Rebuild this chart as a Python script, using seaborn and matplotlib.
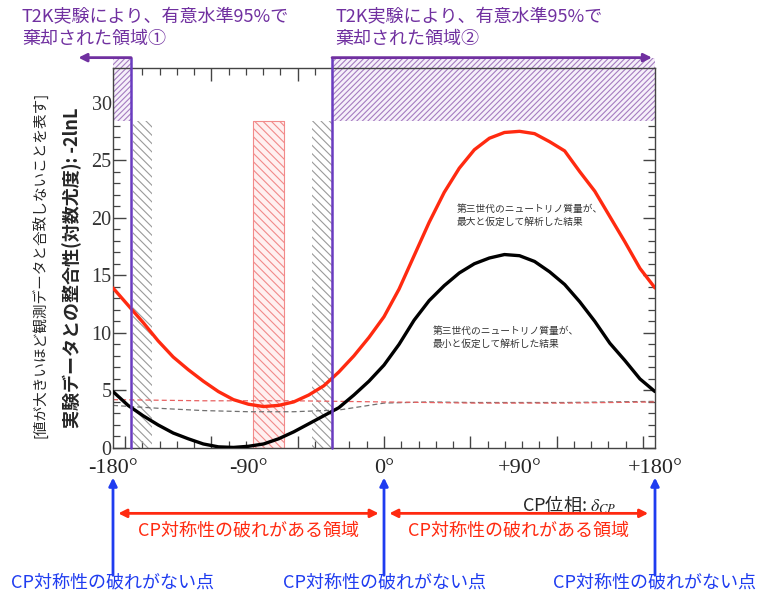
import numpy as np
import pandas as pd
import matplotlib
matplotlib.use("Agg")
import matplotlib.pyplot as plt
import seaborn as sns

# CP phase grid (degrees) and -2lnL
delta_cp = list(range(-180, 181, 10))
chi2_mass_max = [13.9, 12.4, 10.9, 9.3, 7.9, 6.8, 5.8, 4.9, 4.2, 3.8, 3.6, 3.7, 4.0,
                 4.6, 5.4, 6.6, 8.0, 9.6, 11.4, 13.8, 16.7, 19.6, 22.2, 24.3, 25.9,
                 26.9, 27.4, 27.5, 27.3, 26.6, 25.8, 24.0, 22.3, 20.1, 17.9, 15.6, 13.9]
chi2_mass_min = [4.9, 3.7, 2.8, 2.0, 1.3, 0.8, 0.35, 0.1, 0.05, 0.15, 0.35, 0.8, 1.4,
                 2.1, 2.8, 3.5, 4.6, 5.8, 7.2, 9.0, 11.1, 12.8, 14.1, 15.2, 16.0,
                 16.5, 16.8, 16.7, 16.2, 15.3, 14.2, 12.7, 11.0, 9.1, 7.6, 6.0, 4.9]

# dashed reference curves
dash_x = [-180, -150, -120, -90, -60, -30, 0, 30, 60, 90, 120, 150, 180]
dash_red = [4.2, 4.15, 4.1, 4.1, 4.1, 4.05, 4.0, 3.95, 3.9, 3.9, 3.9, 3.95, 4.0]
dash_gray = [3.7, 3.45, 3.25, 3.15, 3.15, 3.3, 3.9, 4.0, 3.95, 3.95, 3.95, 4.0, 4.05]

# excluded regions (T2K 95%) and hatched bands
excluded_1 = (-180, -168)
excluded_2 = (-34.5, 180)
excl_level = 28.4
excl_top = 33.9
gray_bands = [(-166.5, -154), (-48, -34.5)]
red_band = (-87, -66.5)

xtick_pos = [-180, -90, 0, 90, 180]
xtick_labels = ["-180°", "-90°", "0°", "+90°", "+180°"]
cp_points = [-180, 0, 180]
cp_regions = [(-176.5, -3.5), (3.5, 175.5)]

PURPLE = "#7030a0"
PURPLE_LINE = "#6a3cc0"
PURPLE_HATCH = "#a57cc0"
BLUE = "#1f3cf0"
RED = "#ff2a10"
JP = ["Noto Sans CJK JP", "DejaVu Sans"]

sns.set_theme(style="white")
plt.rcParams["font.family"] = ["Liberation Serif", "Noto Sans CJK JP"]
plt.rcParams["mathtext.fontset"] = "stix"
plt.rcParams["hatch.linewidth"] = 0.8

fig = plt.figure(figsize=(7.59, 5.97), dpi=100)
ax = fig.add_axes([113 / 759, 1 - 448 / 597, 542 / 759, 380 / 597])

# hatched bands
for lo, hi in gray_bands:
    ax.fill_between([lo, hi], 0, excl_level, facecolor="none", edgecolor="#9a9a9a",
                    hatch="\\\\\\\\", linewidth=0, zorder=1)
ax.fill_between(list(red_band), 0, excl_level, facecolor="#fff0f0", edgecolor="#f28a8a",
                hatch="\\\\\\\\", linewidth=0.8, zorder=1)
for lo, hi in [excluded_1, excluded_2]:
    ax.fill_between([lo, hi], excl_level, excl_top, facecolor="#f6f0fa", edgecolor=PURPLE_HATCH,
                    hatch="//////", linewidth=0, zorder=1, clip_on=False)

# dashed curves
sns.lineplot(x=dash_x, y=dash_gray, ax=ax, color="#707070", lw=0.9,
             linestyle=(0, (4, 2.5)), zorder=2)
sns.lineplot(x=dash_x, y=dash_red, ax=ax, color="#e86060", lw=0.9,
             linestyle=(0, (4, 2.5)), zorder=2)

# main curves
sns.lineplot(x=delta_cp, y=chi2_mass_max, ax=ax, color=RED, lw=2.4, zorder=3)
sns.lineplot(x=delta_cp, y=chi2_mass_min, ax=ax, color="black", lw=2.4, zorder=3)

# exclusion boundaries and arrows
for xb in [excluded_1[1], excluded_2[0]]:
    ax.plot([xb, xb], [0, excl_top], color=PURPLE_LINE, lw=1.8, zorder=4, clip_on=False)
ax.annotate("", xy=(-203, excl_top), xytext=(excluded_1[1], excl_top),
            arrowprops=dict(arrowstyle="-|>", color=PURPLE, lw=2, mutation_scale=12,
                            shrinkA=0, shrinkB=0), annotation_clip=False, zorder=5)
ax.annotate("", xy=(178, excl_top), xytext=(excluded_2[0], excl_top),
            arrowprops=dict(arrowstyle="-|>", color=PURPLE, lw=2, mutation_scale=12,
                            shrinkA=0, shrinkB=0), annotation_clip=False, zorder=5)

ax.set_xlim(-180, 180)
ax.set_ylim(0, 33)

# ticks: radians on the frame, degree labels below
ax.set_xticks(np.degrees(np.arange(-3, 4)))
ax.set_xticks(np.degrees(np.arange(-3.0, 3.01, 0.2)), minor=True)
ax.set_yticks(range(0, 31, 5))
ax.set_yticks(range(0, 34), minor=True)
ax.tick_params(which="both", direction="in", top=True, right=True, bottom=True, left=True,
               color="#444444", labelbottom=False)
ax.tick_params(which="major", length=9, width=1)
ax.tick_params(which="minor", length=5, width=0.9)
ax.tick_params(axis="y", labelsize=14.5, labelcolor="#333333", pad=1)
for s in ax.spines.values():
    s.set_color("#444444")
    s.set_linewidth(1)

sec = ax.secondary_xaxis("bottom")
sec.set_xticks(xtick_pos, labels=xtick_labels)
sec.tick_params(length=0, pad=8, labelsize=16)
sec.spines["bottom"].set_visible(False)
ax.set_xlabel("")
ax.set_ylabel("")

# in-plot notes
ax.text(48, 21.2, "第三世代のニュートリノ質量が、\n最大と仮定して解析した結果", family=JP,
        fontsize=7, color="#333333", va="top", ha="left", linespacing=1.4)
ax.text(32.5, 10.6, "第三世代のニュートリノ質量が、\n最小と仮定して解析した結果", family=JP,
        fontsize=7, color="#333333", va="top", ha="left", linespacing=1.4)

# y labels
fig.text(72 / 759, 1 - 268 / 597, "実験データとの整合性(対数尤度): -2lnL", family=JP,
         fontsize=13, fontweight="bold", rotation=90, ha="center", va="center")
fig.text(40 / 759, 1 - 265 / 597, "[値が大きいほど観測データと合致しないことを表す]", family=JP,
         fontsize=10.5, rotation=90, ha="center", va="center")

# top annotations
fig.text(22 / 759, 1 - 28 / 597, "T2K実験により、有意水準95%で\n棄却された領域①", family=JP,
         fontsize=13, color=PURPLE, ha="left", va="center", linespacing=1.3)
fig.text(335 / 759, 1 - 28 / 597, "T2K実験により、有意水準95%で\n棄却された領域②", family=JP,
         fontsize=13, color=PURPLE, ha="left", va="center", linespacing=1.3)

# below-axis annotations
xt = ax.get_xaxis_transform()
ax.text(123, -0.15, "CP位相: $\\delta_{CP}$", family=JP, fontsize=13, transform=xt,
        ha="center", va="center")
for xp in cp_points:
    ax.annotate("", xy=(xp, -0.078), xytext=(xp, -0.335), xycoords=xt,
                arrowprops=dict(arrowstyle="-|>", color=BLUE, lw=2, mutation_scale=12,
                                shrinkA=0, shrinkB=0), annotation_clip=False)
    ax.text(xp, -0.355, "CP対称性の破れがない点", family=JP, fontsize=13, color=BLUE,
            transform=xt, ha="center", va="center")
for lo, hi in cp_regions:
    ax.annotate("", xy=(lo, -0.172), xytext=(hi, -0.172), xycoords=xt,
                arrowprops=dict(arrowstyle="<|-|>", color=RED, lw=2, mutation_scale=12,
                                shrinkA=0, shrinkB=0), annotation_clip=False)
    ax.text((lo + hi) / 2, -0.218, "CP対称性の破れがある領域", family=JP, fontsize=13,
            color=RED, transform=xt, ha="center", va="center")

fig.savefig("out.png", dpi=100)
